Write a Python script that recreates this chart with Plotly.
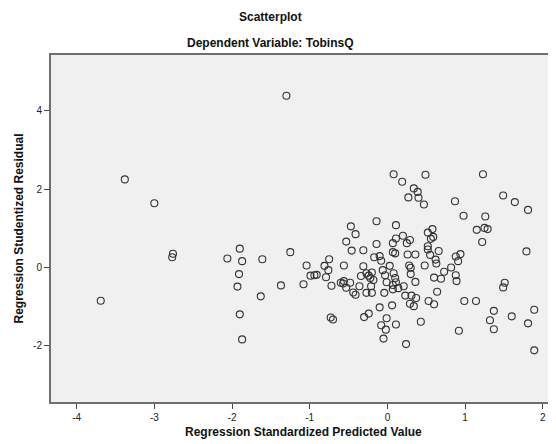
import plotly.graph_objects as go

# Regression Standardized Predicted Value
pred = [-3.69, -3.38, -3.00, -2.76, -2.77, -1.90, -2.06, -1.87, -1.61, -1.91,
        -1.93, -1.63, -1.90, -1.87, -1.37, -1.25, -1.30, -1.04, -1.08, -0.99,
        -0.94, -0.91, -0.81, -0.76, -0.79, -0.75, -0.72, -0.73, -0.70, -0.56,
        -0.60, -0.57, -0.56, -0.53, -0.48, -0.44, -0.41, -0.36, -0.31, -0.34,
        -0.27, -0.24, -0.22, -0.20, -0.18, -0.21, -0.27, -0.20, -0.17, -0.10,
        -0.08, -0.06, -0.03, -0.01, -0.04, 0.03, 0.08, 0.10, 0.11, 0.07,
        0.07, 0.14, 0.21, 0.26, 0.36, 0.28, 0.30, 0.30, 0.36, 0.23,
        0.31, 0.37, 0.29, 0.34, 0.06, -0.10, -0.24, -0.30, -0.01, -0.08,
        -0.02, 0.11, -0.05, 0.24, 0.07, 0.10, 0.43, 0.08, 0.49, 0.19,
        0.34, 0.39, 0.27, 0.40, 0.47, 1.23, 1.49, 1.64, 1.81, 0.87,
        0.98, 1.26, 1.15, 1.25, 1.29, 1.22, 1.79, -0.47, -0.41, -0.53,
        -0.14, 0.11, -0.14, -0.46, -0.31, 0.20, 0.11, 0.29, 0.07, 0.25,
        0.58, 0.52, 0.59, 0.56, 0.52, 0.52, 0.66, 0.55, 0.94, 0.88,
        0.62, 0.48, 0.63, 0.91, 0.60, 0.69, 0.73, 0.82, 0.88, 0.89,
        0.64, 0.53, 0.60, 0.92, 0.99, 1.14, 1.51, 1.49, 1.37, 1.32,
        1.37, 1.60, 1.89, 1.81, 1.89]

# Regression Studentized Residual
resid = [-0.85, 2.25, 1.64, 0.35, 0.26, 0.48, 0.23, 0.16, 0.21, -0.17,
         -0.49, -0.74, -1.20, -1.84, -0.46, 0.39, 4.39, 0.05, -0.43, -0.21,
         -0.20, -0.19, 0.04, -0.07, -0.25, 0.21, -0.47, -1.28, -1.33, 0.05,
         -0.39, -0.41, -0.35, -0.52, -0.39, -0.64, -0.70, -0.48, 0.03, -0.22,
         -0.15, -0.21, -0.27, -0.13, -0.32, -0.48, -0.65, -0.65, 0.26, 0.29,
         0.17, -0.07, -0.20, -0.38, -0.65, 0.04, -0.15, -0.27, -0.38, -0.45,
         -0.56, -0.53, -0.48, 0.33, 0.33, 0.05, -0.01, -0.17, -0.37, -0.72,
         -0.72, -0.78, -0.93, -0.99, -0.97, -1.02, -1.18, -1.27, -1.30, -1.48,
         -1.59, -1.46, -1.82, -1.96, 0.39, 0.36, -1.39, 2.38, 2.37, 2.19,
         2.02, 1.93, 1.79, 1.78, 1.61, 2.38, 1.84, 1.67, 1.47, 1.69,
         1.32, 1.30, 0.96, 1.01, 0.98, 0.65, 0.41, 1.05, 0.85, 0.66,
         1.18, 1.08, 0.60, 0.43, 0.44, 0.81, 0.74, 0.70, 0.62, 0.62,
         0.98, 0.89, 0.78, 0.73, 0.54, 0.46, 0.42, 0.32, 0.34, 0.28,
         0.20, 0.05, 0.10, 0.16, -0.26, -0.29, -0.11, 0.00, -0.20, -0.35,
         -0.62, -0.86, -0.94, -1.62, -0.86, -0.86, -0.39, -0.51, -1.11, -1.35,
         -1.58, -1.25, -1.08, -1.43, -2.12]

x_ticks = [-4, -3, -2, -1, 0, 1, 2]
y_ticks = [-2, 0, 2, 4]

title_main = "Scatterplot"
title_sub = "Dependent Variable: TobinsQ"
x_title = "Regression Standardized Predicted Value"
y_title = "Regression Studentized Residual"

FONT = "Arial, Liberation Sans, sans-serif"

fig = go.Figure()
fig.add_trace(go.Scatter(
    x=pred, y=resid, mode="markers",
    marker=dict(symbol="circle-open", size=7, color="#333333",
                line=dict(width=1.1, color="#333333")),
    hoverinfo="x+y",
))

# The page body adds an 8px offset, so the figure is 8px smaller than the window.
fig.update_layout(
    width=548, height=436,
    margin=dict(l=43, r=0, t=47, b=42),
    paper_bgcolor="white",
    plot_bgcolor="#F0F0F0",
    showlegend=False,
    font=dict(family=FONT, size=10, color="#222222"),
    xaxis=dict(
        range=[-4.33, 2.17], tickvals=x_ticks, ticktext=[str(v) for v in x_ticks],
        showgrid=False, zeroline=False, showline=True, linecolor="#6E6E6E",
        linewidth=2, mirror=True, ticks="outside", ticklen=5, tickwidth=1,
        tickcolor="#444444", tickfont=dict(size=10, color="#222222"),
    ),
    yaxis=dict(
        range=[-3.44, 5.43], tickvals=y_ticks, ticktext=[str(v) for v in y_ticks],
        showgrid=False, zeroline=False, showline=True, linecolor="#6E6E6E",
        linewidth=2, mirror=False, ticks="outside", ticklen=5, tickwidth=1,
        tickcolor="#444444", tickfont=dict(size=10, color="#222222"),
    ),
    annotations=[
        dict(text="<b>" + title_main + "</b>", xref="paper", yref="paper",
             x=0.434, y=1, yshift=38, xanchor="center", yanchor="middle",
             showarrow=False, font=dict(family=FONT, size=12, color="#111111")),
        dict(text="<b>" + title_sub + "</b>", xref="paper", yref="paper",
             x=0.434, y=1, yshift=12, xanchor="center", yanchor="middle",
             showarrow=False, font=dict(family=FONT, size=12, color="#111111")),
        dict(text="<b>" + x_title + "</b>", xref="paper", yref="paper",
             x=0.5, y=0, yshift=-30, xanchor="center", yanchor="middle",
             showarrow=False, font=dict(family=FONT, size=12, color="#111111")),
        dict(text="<b>" + y_title + "</b>", xref="paper", yref="paper",
             x=0, y=0.5, xshift=-33, xanchor="center", yanchor="middle",
             textangle=-90, showarrow=False,
             font=dict(family=FONT, size=12, color="#111111")),
    ],
)

fig.write_html("out.html")
